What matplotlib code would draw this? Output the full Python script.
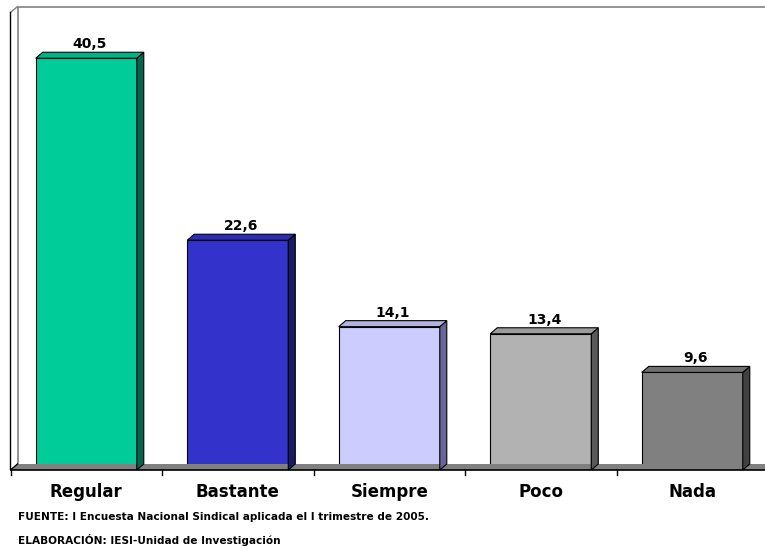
import matplotlib
matplotlib.use("Agg")
import matplotlib.pyplot as plt
from matplotlib.patches import Polygon
import numpy as np

categories = ["Regular", "Bastante", "Siempre", "Poco", "Nada"]
values = [40.5, 22.6, 14.1, 13.4, 9.6]
labels = ["40,5", "22,6", "14,1", "13,4", "9,6"]
front_colors = ["#00CC99", "#3333CC", "#CCCCFF", "#B2B2B2", "#808080"]
top_colors = ["#00B386", "#2D2DB3", "#B3B3E0", "#9C9C9C", "#707070"]
side_colors = ["#006650", "#1A1A66", "#666699", "#595959", "#404040"]
source_lines = [
    "FUENTE: I Encuesta Nacional Sindical aplicada el I trimestre de 2005.",
    "ELABORACIÓN: IESI-Unidad de Investigación",
]

W, H = 765, 546
DX, DY = 7, 6  # profundidad en pixeles
bar_w = 0.667

fig = plt.figure(figsize=(W / 100, H / 100), dpi=100)
ax = fig.add_axes([10.5 / W, (H - 470) / H, 757.5 / W, 457.5 / H])
ax.set_xlim(-0.5, 4.5)
ax.set_ylim(0, 45)
ax.axis("off")

to_disp = ax.transData.transform


def poly(pts, **kw):
    p = Polygon(pts, closed=True, transform=None, clip_on=False, **kw)
    fig.add_artist(p)


# paredes y piso
(x0, y0), (x1, y1) = to_disp([(-0.5, 0), (4.5, 45)])
poly([(x0, y0), (x1 + 20, y0), (x1 + 20 + DX, y0 + DY), (x0 + DX, y0 + DY)],
     facecolor="#808080", edgecolor="none", zorder=1)
fig.add_artist(plt.Line2D([x0 + DX, x0 + DX, x1 + 30], [y0 + DY, y1 + DY, y1 + DY],
                          transform=None, color="#808080", lw=1.2, zorder=1))
fig.add_artist(plt.Line2D([x0, x0 + DX], [y1, y1 + DY], transform=None,
                          color="#808080", lw=1, zorder=1))
fig.add_artist(plt.Line2D([x0, x0, x0 + DX], [y1, y0, y0 + DY], transform=None,
                          color="black", lw=1, zorder=2))
fig.add_artist(plt.Line2D([x0, x1 + 20], [y0, y0], transform=None,
                          color="black", lw=1.2, zorder=4))
for k in range(len(categories) + 1):
    tx, ty = to_disp((k - 0.5, 0))
    fig.add_artist(plt.Line2D([tx, tx], [ty, ty - 5], transform=None,
                              color="black", lw=1, zorder=4))

# barras
x = np.arange(len(categories))
ax.bar(x, values, width=bar_w, color=front_colors, edgecolor="black",
       linewidth=0.8, zorder=3)
for i, v in enumerate(values):
    (bl, bb), (br, bt) = to_disp([(i - bar_w / 2, 0), (i + bar_w / 2, v)])
    poly([(br, bb), (br + DX, bb + DY), (br + DX, bt + DY), (br, bt)],
         facecolor=side_colors[i], edgecolor="black", lw=0.8, zorder=3)
    poly([(bl, bt), (br, bt), (br + DX, bt + DY), (bl + DX, bt + DY)],
         facecolor=top_colors[i], edgecolor="black", lw=0.8, zorder=3)
    fig.text((bl + br + DX) / 2 / W, (bt + DY + 1) / H, labels[i],
             ha="center", va="bottom", fontsize=10, fontweight="bold",
             family="DejaVu Sans")
    cx = to_disp((i, 0))[0]
    fig.text(cx / W, 54 / H, categories[i],
             ha="center", va="center", fontsize=12, fontweight="bold",
             family="DejaVu Sans")

fig.text(18 / W, (H - 517) / H, source_lines[0], ha="left", va="center",
         fontsize=7.6, fontweight="bold", family="DejaVu Sans")
fig.text(18 / W, (H - 540) / H, source_lines[1], ha="left", va="center",
         fontsize=7.6, fontweight="bold", family="DejaVu Sans")

fig.savefig("out.png", dpi=100)
